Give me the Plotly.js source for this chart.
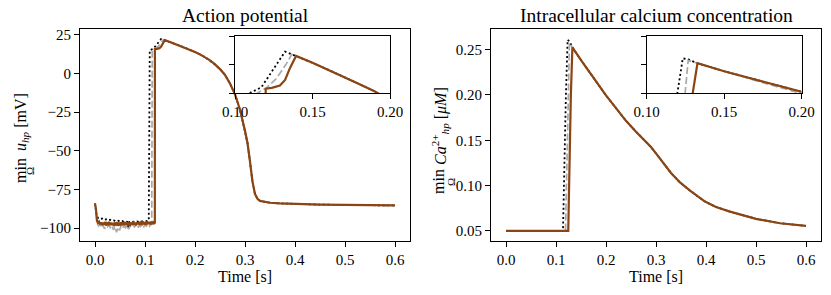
<!DOCTYPE html>
<html>
<head>
<meta charset="utf-8">
<script src="https://cdn.plot.ly/plotly-3.0.1.min.js"></script>
<style>html,body{margin:0;padding:0;background:#fff;}#chart{width:831px;height:295px;}</style>
</head>
<body>
<div id="chart"></div>
<script>
// ---------- Action potential data (time [s], mV) ----------
var apBrownT = [0,0.002,0.004,0.006,0.008,0.010,0.012,0.014,0.016,0.018,0.020,0.022,0.024,0.026,0.028,0.030,0.032,0.034,0.036,0.038,0.040,0.042,0.044,0.046,0.048,0.050,0.052,0.054,0.056,0.058,0.060,0.062,0.064,0.066,0.068,0.070,0.072,0.074,0.076,0.078,0.080,0.082,0.084,0.086,0.088,0.090,0.092,0.094,0.096,0.098,0.100,0.102,0.104,0.106,0.108,0.110,0.112,0.114,0.116,0.118,0.1197,0.1198,0.1237,0.129,0.1323,0.1355,0.1394];
var apBrownV = [-84,-88,-95.5,-96.5,-95.8,-97.5,-96.2,-98.0,-96.5,-97.8,-96.0,-98.3,-96.8,-97.5,-95.9,-98.1,-96.4,-97.9,-96.6,-98.6,-96.9,-97.6,-96.2,-98.4,-97.0,-97.8,-96.3,-98.2,-96.8,-97.4,-96.0,-98.0,-96.7,-97.9,-96.4,-98.5,-96.9,-97.3,-95.8,-97.8,-96.5,-98.1,-96.2,-97.5,-96.0,-97.9,-96.4,-97.2,-95.7,-97.6,-96.1,-97.8,-95.9,-97.3,-96.0,-97.5,-95.8,-97.0,-96.2,-97.0,-96.5,15.75,15.9,16.3,17.3,19.4,21.5];
var apBlackT = [0,0.003,0.006,0.010,0.014,0.018,0.022,0.026,0.030,0.034,0.038,0.042,0.046,0.050,0.054,0.058,0.062,0.065,0.067,0.069,0.072,0.076,0.080,0.084,0.088,0.092,0.096,0.100,0.104,0.1075,0.1095,0.117,0.1323,0.1394];
var apBlackV = [-84,-91,-93.5,-94.2,-93.8,-94.8,-94.3,-95.0,-94.6,-95.3,-95.0,-95.6,-95.2,-95.8,-95.4,-96.0,-95.6,-96.0,-100.5,-96.0,-96.2,-95.8,-96.1,-95.7,-96.0,-95.5,-95.8,-95.3,-95.5,-95.2,15.0,16.0,22.26,21.5];
var apGrayT = [0,0.002,0.004,0.007,0.010,0.013,0.016,0.019,0.022,0.025,0.028,0.031,0.034,0.037,0.040,0.043,0.046,0.049,0.052,0.055,0.058,0.061,0.064,0.067,0.070,0.073,0.076,0.079,0.082,0.085,0.088,0.091,0.094,0.097,0.100,0.103,0.106,0.109,0.112,0.1135,0.1145,0.1204,0.1269,0.1333,0.1366,0.1394];
var apGrayV = [-84,-88,-96.5,-98.5,-97.6,-99.8,-98.2,-100.4,-98.5,-99.2,-97.8,-100.0,-98.6,-101.2,-99.0,-102.6,-99.4,-101.5,-98.8,-100.3,-98.5,-99.8,-98.2,-100.6,-98.4,-99.6,-97.9,-99.2,-98.0,-100.1,-98.3,-99.0,-97.6,-99.4,-97.8,-98.6,-97.2,-98.8,-97.5,-97.0,15.0,15.9,17.6,20.2,21.8,21.5];
// shared repolarisation after the peak
var apDecayT = [0.1394,0.15,0.16,0.17,0.18,0.19,0.20,0.21,0.22,0.23,0.24,0.25,0.26,0.27,0.28,0.29,0.30,0.305,0.31,0.315,0.32,0.325,0.33,0.34,0.35,0.37,0.40,0.45,0.50,0.55,0.60];
var apDecayV = [21.5,20.3,19.1,17.9,16.6,15.3,13.9,12.3,10.5,8.4,5.8,2.8,-1.0,-6.5,-13.5,-23.5,-37,-45,-57,-70,-78,-81,-82.4,-83.2,-83.6,-84.0,-84.4,-84.8,-85.0,-85.2,-85.3];

// ---------- Calcium data (time [s], uM) ----------
var caBlackT = [0,0.114,0.1198,0.1233,0.127,0.1328];
var caBlackV = [0.05,0.05,0.2,0.261,0.259,0.2525];
var caGrayT  = [0,0.119,0.1248,0.1268,0.1328];
var caGrayV  = [0.05,0.05,0.2,0.2575,0.2525];
var caBrownT = [0,0.1245,0.1297,0.1328];
var caBrownV = [0.05,0.05,0.2,0.2525];
var caDecayT = [0.1328,0.15,0.17,0.20,0.22,0.24,0.26,0.28,0.29,0.30,0.315,0.33,0.348,0.368,0.398,0.42,0.448,0.50,0.548,0.60];
var caDecayV = [0.2525,0.2385,0.2225,0.1995,0.1855,0.1715,0.1595,0.148,0.1425,0.1355,0.1248,0.1140,0.1035,0.0945,0.0824,0.0765,0.0713,0.0633,0.0585,0.0555];

// tick labels
var mainXTicks = [0,0.1,0.2,0.3,0.4,0.5,0.6];
var apYTicks = [-100,-75,-50,-25,0,25];
var caYTicks = [0.05,0.10,0.15,0.20,0.25];
var insetXTicks = [0.10,0.15,0.20];

function join(t1,v1,t2,v2){ return {x:t1.concat(t2.slice(1)), y:v1.concat(v2.slice(1))}; }
var apB = join(apBlackT,apBlackV,apDecayT,apDecayV);
var apG = join(apGrayT,apGrayV,apDecayT,apDecayV);
var apR = join(apBrownT,apBrownV,apDecayT,apDecayV);
var caB = join(caBlackT,caBlackV,caDecayT,caDecayV);
var caG = join(caGrayT,caGrayV,caDecayT,caDecayV);
var caR = join(caBrownT,caBrownV,caDecayT,caDecayV);

var BROWN = '#8B4513', GRAY = '#a9a9a9', BLACK = '#000000';
var styles = [
  {color:BLACK, width:1.8, dash:'2px,2.6px'},
  {color:GRAY, width:1.7, dash:'7px,3px'},
  {color:BROWN, width:2.2, dash:'solid'}
];
var traces = [];
function addSet(sets, xa, ya){
  sets.forEach(function(s,i){
    traces.push({x:s.x, y:s.y, type:'scatter', mode:'lines', xaxis:xa, yaxis:ya,
      line:{color:styles[i].color, width:styles[i].width, dash:styles[i].dash}, hoverinfo:'skip', showlegend:false});
  });
}
addSet([apB,apG,apR],'x','y');
addSet([caB,caG,caR],'x2','y2');
addSet([apB,apG,apR],'x3','y3');
addSet([caB,caG,caR],'x4','y4');

var FONT = 'Liberation Serif, Times New Roman, serif';
var tickFont = {family:FONT, size:15, color:'#000'};
function ax(o){
  var base = {showline:true, mirror:true, linecolor:'#000', linewidth:1.1, ticks:'outside', ticklen:5, tickwidth:1,
    tickcolor:'#000', showgrid:false, zeroline:false, tickfont:tickFont, fixedrange:true};
  for (var k in o) base[k]=o[k];
  return base;
}
// pixel helpers: plot area x 80..821 , y 29..241
var L=80, W=741, T=29, H=212;
function px(x){return (x-L)/W;}
function py(y){return (T+H-y)/H;}
function ann(text,x,y,size,angle){
  return {text:text, xref:'paper', yref:'paper', x:px(x), y:py(y), xanchor:'center', yanchor:'middle',
    showarrow:false, font:{family:FONT, size:size, color:'#000'}, textangle:angle||0};
}

var layout = {
  width:831, height:295,
  margin:{l:L, r:831-L-W, t:T, b:295-T-H, pad:0},
  paper_bgcolor:'#fff', plot_bgcolor:'#fff',
  font:{family:FONT, size:15, color:'#000'},
  xaxis: ax({domain:[0,px(410)], range:[-0.03,0.63], anchor:'y', tickvals:mainXTicks, tickformat:'.1f'}),
  yaxis: ax({domain:[0,1], range:[-108.3,28.7], anchor:'x', tickvals:apYTicks}),
  xaxis2: ax({domain:[px(491),1], range:[-0.03,0.63], anchor:'y2', tickvals:mainXTicks, tickformat:'.1f'}),
  yaxis2: ax({domain:[0,1], range:[0.0389,0.2728], anchor:'x2', tickvals:caYTicks, tickformat:'.2f'}),
  xaxis3: ax({domain:[px(235),px(390)], range:[0.1,0.2], anchor:'y3', tickvals:insetXTicks, tickformat:'.2f'}),
  yaxis3: ax({domain:[py(93),py(36)], range:[15,25], anchor:'x3', tickvals:[15,20,25], showticklabels:false}),
  xaxis4: ax({domain:[px(646.7),px(801.5)], range:[0.1,0.2], anchor:'y4', tickvals:insetXTicks, tickformat:'.2f'}),
  yaxis4: ax({domain:[py(93.3),py(36)], range:[0.2,0.3], anchor:'x4', tickvals:[0.2,0.25,0.3], showticklabels:false}),
  annotations:[
    ann('Action potential',245,16,19.5),
    ann('Intracellular calcium concentration',656,16,19.5),
    ann('Time [s]',245,276,16),
    ann('Time [s]',656,276,16),
    ann('min',20,171,16,-90),
    ann('Ω',30,171,11,-90),
    ann('<i>u</i><sub><i>hp</i></sub> [mV]',22,122,16,-90),
    ann('min',438,182,16,-90),
    ann('Ω',451,182,11,-90),
    ann('<i>Ca</i><sup>2+</sup><sub><i>hp</i></sub> [<i>μM</i>]',440,126,16,-90)
  ]
};
Plotly.newPlot('chart', traces, layout, {staticPlot:true, displayModeBar:false});
</script>
</body>
</html>
